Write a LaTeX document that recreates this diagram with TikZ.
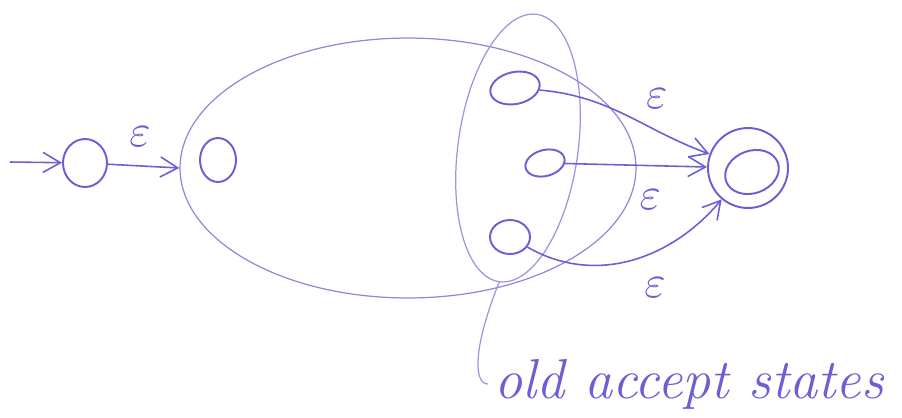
\documentclass[tikz,border=0pt]{standalone}
\usepackage{fontspec}
\usepackage{tikz}
\usetikzlibrary{positioning,arrows.meta,shapes.geometric}
\definecolor{ink}{HTML}{6B5FD3}
\definecolor{pale}{HTML}{9B95DD}

\begin{document}
\begin{tikzpicture}[x=0.02cm, y=-0.02cm, >={Straight Barb[length=3.5mm,width=4mm]},
   state/.style={draw=ink, ellipse, line width=1.1pt, inner sep=0pt},
   blob/.style={draw=pale, ellipse, line width=0.7pt, inner sep=0pt},
   edge/.style={->, draw=ink, line width=0.9pt},
   lab/.style={ink, scale=2.6}]
  \useasboundingbox (0,0) rectangle (902,417);
  % the old machine and its accept states
  \node[blob, draw=ink!75, minimum width=9.12cm, minimum height=5.2cm] (nfa) at (408,168) {};
  \node[blob, minimum width=2.4cm, minimum height=5.4cm, rotate=-8] (grp) at (518,148) {};
  % states
  \node[state, minimum width=0.88cm, minimum height=0.96cm] (s) at (85,163) {};
  \node[state, minimum width=0.72cm, minimum height=0.88cm] (q0) at (218,160) {};
  \node[state, minimum width=1.0cm, minimum height=0.64cm, rotate=12] (q1) at (515,88) {};
  \node[state, minimum width=0.8cm, minimum height=0.52cm, rotate=15] (q2) at (545,163) {};
  \node[state, minimum width=0.8cm, minimum height=0.68cm] (q3) at (510,237) {};
  \node[state, minimum size=1.6cm] (f) at (748,168) {};
  \node[state, minimum width=1.1cm, minimum height=0.85cm, rotate=20] (fin) at (752,172) {};
  % connectors
  \coordinate (in) at (10,162);
  \draw[edge] (in) -- (s);
  \draw[edge] (s) -- node[lab, pos=0.45, above=1pt] {$\varepsilon$} (nfa.west);
  \draw[edge] (q1) to[out=-8, in=160] node[lab, pos=0.7, above=3pt] {$\varepsilon$} (f);
  \draw[edge] (q2) -- node[lab, pos=0.6, below=4pt] {$\varepsilon$} (f);
  \draw[edge] (q3) to[out=-30, in=-130] node[lab, pos=0.62, below=5pt] {$\varepsilon$} (f);
  % note
  \node[ink, font=\itshape\fontsize{32}{32}\selectfont, anchor=west] (note) at (488,384) {old accept states};
  \draw[pale, line width=0.7pt] (grp.south) .. controls (472,350) and (474,384) .. (note.west);
\end{tikzpicture}
\end{document}
